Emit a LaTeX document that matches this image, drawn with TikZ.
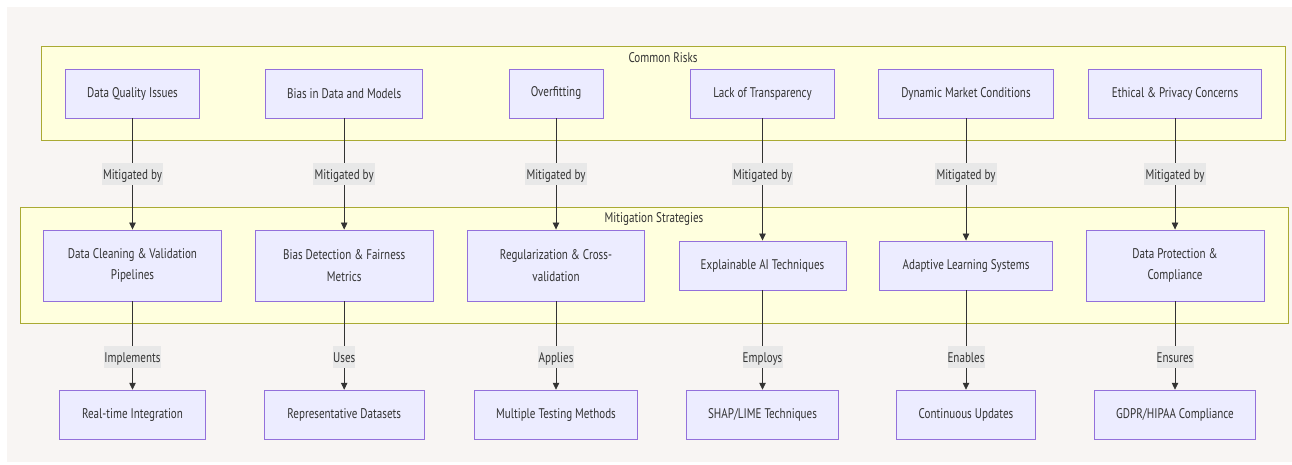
\documentclass[tikz,border=0pt]{standalone}
\usepackage{fontspec}
\setmainfont{PT Sans}[FakeStretch=0.79]
\usetikzlibrary{arrows.meta}
\definecolor{pagebg}{HTML}{F8F5F3}
\definecolor{clusterfill}{HTML}{FFFFDE}
\definecolor{clusterline}{HTML}{AAAA33}
\definecolor{boxfill}{HTML}{ECECFF}
\definecolor{boxline}{HTML}{9370DB}
\definecolor{ink}{HTML}{333333}
\definecolor{tagfill}{HTML}{E8E8E8}
\tikzset{
  x=1pt, y=-1pt,
  every node/.style={font=\fontsize{14}{21.5}\selectfont, text=ink},
  cluster/.style={draw=clusterline, fill=clusterfill, line width=0.9pt},
  box/.style={draw=boxline, fill=boxfill, line width=0.9pt, align=center,
              inner sep=0pt, minimum height=49pt},
  tallbox/.style={box, minimum height=71pt},
  edge/.style={draw=ink, line width=0.8pt, -{Triangle[length=7pt,width=6.5pt]}},
  tag/.style={fill=tagfill, inner sep=0pt, minimum height=21.5pt, text depth=0pt},
  heading/.style={inner sep=0pt}
}
\begin{document}
\begin{tikzpicture}
% page area
\useasboundingbox (0,0) rectangle (1292,465);
\fill[white] (0,0) rectangle (1292,465);
\fill[pagebg] (7,7) rectangle (1292,462);

% groups
\draw[cluster] (41,46.7) rectangle (1285,140);
\node[heading] (riskhead) at (663,58) {Common Risks};
\draw[cluster] (20,207.7) rectangle (1288,323.3);
\node[heading] (mithead) at (654,219) {Mitigation Strategies};

% risks
\node[box, minimum width=134pt]   (r1) at (132.5,93.5) {Data Quality Issues};
\node[box, minimum width=157pt]   (r2) at (344.2,93.5) {Bias in Data and Models};
\node[box, minimum width=94pt]    (r3) at (556,93.5)   {Overfitting};
\node[box, minimum width=144.5pt] (r4) at (762.5,93.5) {Lack of Transparency};
\node[box, minimum width=174.3pt] (r5) at (966,93.5)   {Dynamic Market Conditions};
\node[box, minimum width=172.3pt] (r6) at (1175,93.5)  {Ethical \& Privacy Concerns};

% strategies
\node[tallbox, minimum width=178.4pt] (m1) at (132.5,265.5) {Data Cleaning \& Validation\\Pipelines};
\node[tallbox, minimum width=178pt]   (m2) at (344.2,265.5) {Bias Detection \& Fairness\\Metrics};
\node[tallbox, minimum width=177.7pt] (m3) at (556,265.5)   {Regularization \& Cross-\\validation};
\node[box, minimum width=167pt]       (m4) at (762.5,265.5) {Explainable AI Techniques};
\node[box, minimum width=172.3pt]     (m5) at (966,265.5)   {Adaptive Learning Systems};
\node[tallbox, minimum width=178pt]   (m6) at (1175,265.5)  {Data Protection \&\\Compliance};

% outcomes
\node[box, minimum width=146pt]   (b1) at (132.5,414.7) {Real-time Integration};
\node[box, minimum width=160pt]   (b2) at (344.2,414.7) {Representative Datasets};
\node[box, minimum width=162.3pt] (b3) at (556,414.7)   {Multiple Testing Methods};
\node[box, minimum width=151.7pt] (b4) at (762.5,414.7) {SHAP/LIME Techniques};
\node[box, minimum width=138.3pt] (b5) at (966,414.7)   {Continuous Updates};
\node[box, minimum width=161.4pt] (b6) at (1175,414.7)  {GDPR/HIPAA Compliance};

% connectors
\foreach \i in {1,...,6} {
  \draw[edge] (r\i) -- (m\i);
  \draw[edge] (m\i) -- (b\i);
}

% connector labels
\foreach \i/\x in {1/132.5,2/344.2,3/556,4/762.5,5/966,6/1175}
  \node[tag, minimum width=61.6pt] (t\i) at (\x,174.2) {Mitigated by};
\node[tag, minimum width=57pt] (u1) at (132.5,357.2) {Implements};
\node[tag, minimum width=22pt] (u2) at (344.2,357.2) {Uses};
\node[tag, minimum width=36pt] (u3) at (556,357.2)   {Applies};
\node[tag, minimum width=40pt] (u4) at (762.5,357.2) {Employs};
\node[tag, minimum width=37pt] (u5) at (966,357.2)   {Enables};
\node[tag, minimum width=37pt] (u6) at (1175,357.2)  {Ensures};
\end{tikzpicture}
\end{document}
